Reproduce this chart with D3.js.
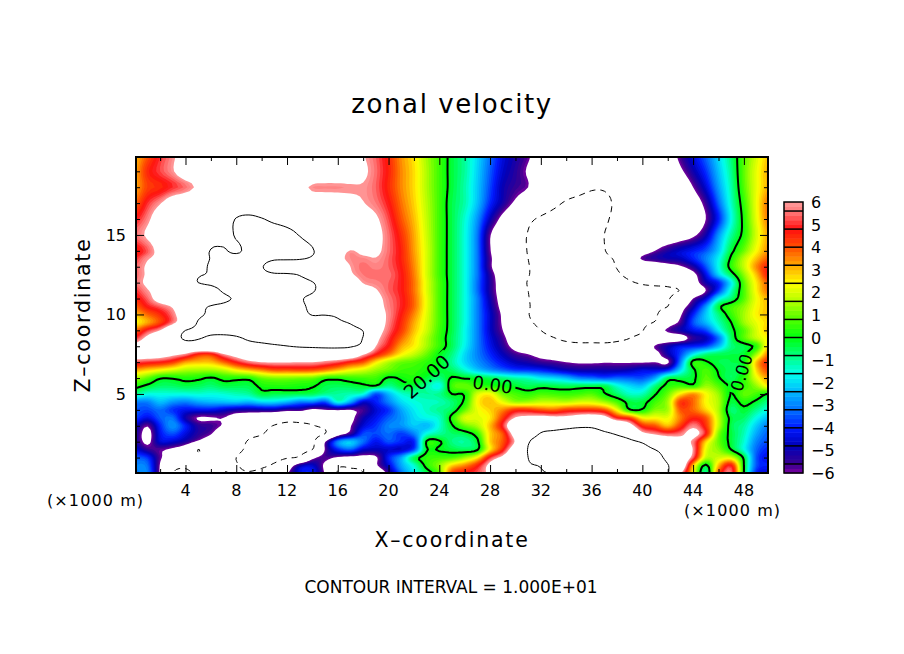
<!DOCTYPE html>
<html><head><meta charset="utf-8">
<script src="https://cdn.jsdelivr.net/npm/d3@7"></script>
<style>html,body{margin:0;background:#fff}svg{display:block}text{font-family:"DejaVu Sans",sans-serif;fill:#000}</style>
</head><body><svg id="c" width="904" height="654"></svg>
<script>
const titleText="zonal velocity";
const xLabel="X\u2013coordinate", zLabel="Z\u2013coordinate";
const unitText="(\u00d71000 m)";
const footer="CONTOUR INTERVAL = 1.000E+01";
const xMajor=[4,8,12,16,20,24,28,32,36,40,44,48];
const xMinor=[2,6,10,14,18,22,26,30,34,38,42,46];
const zMajor=[5,10,15];
const zMinor=[1,2,3,4,6,7,8,9,11,12,13,14,16,17,18,19];
const legendTicks=[6,5,4,3,2,1,0,-1,-2,-3,-4,-5,-6];
const legendEdges=[5.6,4.8,4,3.2,2.4,1.6,0.8,0,-0.8,-1.6,-2.4,-3.2,-4,-4.8,-5.6];
const colorValues=[-6,-5.6,-4.8,-4,-3.2,-2.4,-1.6,-0.8,0,0.8,1.6,2.4,3.2,4,4.8,5.6,6];
const colorStops=["#7a00a0","#3a0090","#0000b8","#0018ff","#0070ff","#00b8ff","#00ffee","#00ff80","#00ff10","#50ff00","#b0ff00","#ffff00","#ffa800","#ff5000","#ff1010","#ff7c7c","#ff9c9c"];
const contourLabels=[{t:"20.00",x:23,z:6.1,r:-42,s:19},{t:"0.00",x:28.2,z:5.6,r:8,s:18},{t:"0.00",x:47.8,z:6.35,r:-73,s:17}];
const zLevels=[20,19,18,17,16,15,14,13.5,13,12.5,12,11.5,11,10.5,10,9.5,9,8.5,8,7.5,7,6.5,6,5.5,5,4.5,4,3.5,3,2.5,2,1.5,1,.5,0];
const velocity=[
[3,4,5,5.8,6.8,7.5,8,8,8,8, 8,8,8,8,8,8,7.5,7,6.1,5.4, 4.5,3.4,2.6,1.5,.6,-.3,-1,-2,-3.2,-4.4, -5.1,-5.8,-7,-8,-8,-8.5,-8.5,-8.5,-8,-8, -8,-7.5,-7,-5.6,-4.4,-3.3,-2,-.7,.8,2,3],
[3.2,4.5,5.2,5.9,7,7.5,8,8,8,8, 8,8,8,8,7.8,7.5,7.4,7,6.3,5.5, 4.6,3.5,2.7,1.6,.6,-.3,-1,-2.1,-3.4,-4.6, -5.3,-6.2,-7.5,-8,-8.5,-8.7,-9,-9,-8.5,-8, -8,-8,-7.5,-6.3,-5,-3.8,-2.3,-.9,.9,2.2,3.2],
[3.2,4.2,4.5,5,5.5,6.3,7.5,8,8,8, 8,8,7.5,6.6,5.8,5.75,5.75,5.85,5.9,5.4, 4.5,3.5,2.7,1.6,.6,-.3,-1.1,-2.2,-3.6,-4.9, -5.5,-6,-7.5,-8.5,-9,-9.4,-9.8,-9.8,-9.3,-8.5, -8,-8,-8,-7.5,-6,-4.5,-2.7,-1.1,.8,2.2,3.2],
[3.8,5,5.9,7,7.5,8,8,8.5,8.5,8.5, 8.5,8.5,8.5,8,7.5,7.2,7,6.5,6.05,5.6, 4.8,3.7,2.8,1.7,.6,-.4,-1.1,-2.3,-3.9,-5.1, -6.3,-7.5,-8.5,-9.5,-10.2,-10.5,-10.7,-10.5,-9.6,-8.8, -8.3,-8,-8,-8,-7,-5.5,-3.3,-1.3,.5,2.3,3.8],
[4.8,5.7,7,7.5,8,8.3,8.6,9,10.1,10.4, 10.1,9.6,9.3,9,8.5,8,7.5,7,6.7,6.2, 5.2,4,3,1.8,.6,-.4,-1.4,-2.8,-4.8,-6.5, -8,-9.5,-10.3,-10.8,-11,-11,-11,-10.3,-9.5,-8.8, -8.3,-8,-8,-8,-7.5,-6,-4,-1.6,.3,2.2,3.7],
[5.5,6.2,7,7.5,8,8.5,9,9.6,10.1,10.6, 11,11,10.6,9.9,9,8.5,8,7.5,7,6.5, 5.5,4.4,3.2,1.9,.6,-.4,-1.5,-3.1,-5.9,-7.5, -9,-10.1,-11,-11.5,-11.5,-11.5,-11,-10,-9.3,-8.7, -8.2,-8,-7.5,-7,-6.3,-5,-2.8,-1,.3,2,3.3],
[4.5,5.3,6.6,7.5,8,8.6,10.1,10.1,9.8,10.4, 11,11.2,11.2,11,10.2,8.5,7,5.95,6.4,6.3, 5.5,4.6,3.3,2,.6,-.4,-1.5,-3.1,-5.9,-7.5, -9,-10.1,-11,-11.5,-11.5,-11.5,-11,-10.1,-9,-8, -7,-6,-5.2,-4.6,-4.1,-3.5,-2.2,-.3,1,2.4,3.5],
[5,5.9,6.5,7.5,8,8.8,10.1,10.4,10.5,10.6, 10.5,10.2,10.2,10.1,9.7,8.5,6.5,5.8,5.75,5.95, 5.4,4.6,3.4,2,.6,-.4,-1.5,-3.1,-5.7,-7.5, -9,-10,-11,-11.5,-11.5,-11.5,-11.3,-10.5,-9.6,-7.5, -5.8,-5.3,-5,-4.8,-4,-3,-1.7,.2,1.7,3,4],
[5.4,6.2,7,7.5,8,9,10.3,10.5,10.6,10.5, 10.1,9.2,8.8,9,8.8,8,7,6,5.5,5.7, 5.4,4.7,3.5,2,.6,-.4,-1.5,-3.1,-5.7,-7.6, -9,-9.9,-10.8,-11.5,-11.5,-11.5,-11.3,-10.8,-9.9,-8.8, -8,-7.5,-6.8,-6.2,-5.2,-3.5,-1.6,.4,1.8,3.5,4.7],
[5.4,6.2,7,7.5,8.5,9.8,10.1,10.5,10.6,10.6, 10.4,10.2,10.2,9.9,9,8,7,6.2,5.6,5.5, 5.5,4.8,3.6,2,.6,-.4,-1.5,-3.1,-5.3,-7.2, -9,-9.9,-10.8,-11.5,-11.5,-11.5,-11.5,-11.2,-10.3,-9.5, -9,-8.7,-8.2,-7.5,-6.5,-4.3,-2.1,-.5,1.3,3,4.8],
[5.5,6.3,7,7.5,8.8,10,10.3,10.6,10.8,11, 11,10.8,10.5,10.6,10.1,9,8,7,5.95,5.7, 5.4,4.8,3.7,2.1,.7,-.4,-1.5,-3.2,-5.2,-7, -9,-10.1,-11,-11.5,-11.5,-11.5,-11.5,-11,-10.8,-10.2, -9.8,-9.6,-9.5,-8.8,-7,-5,-4,-1.8,.8,2.6,4],
[5,5.9,6.7,7.3,8,8.6,9.3,10.2,10.6,11, 11.2,11.2,11,10.6,10.2,9,8,7,6.6,6.1, 5.4,4.8,3.7,2.1,.7,-.4,-1.5,-3.2,-5.2,-6.9, -8.8,-10,-11,-11.5,-11.5,-11.5,-11.5,-11.3,-11,-10.8, -10.6,-10.5,-10.3,-9.9,-8,-6,-3.8,-1.3,.7,2.5,3.8],
[4.5,5.4,6.8,7.5,8,8.5,9,9.7,10.2,10.8, 11,11,10.8,10.2,9.5,8.5,8,7,6.8,6.4, 5.6,4.9,3.8,2.2,.7,-.4,-1.5,-3,-5,-6.8, -8.8,-9.9,-11,-11.5,-11.5,-11.5,-11.5,-11.5,-11.2,-11, -10.8,-10.6,-10.2,-8.5,-6,-4.5,-1.8,-.7,.8,2.3,3.2],
[3.8,4.8,5.4,6.2,8,9.4,10.1,10.3,10.5,10.8, 11,11,10.8,10.4,9.5,8.5,7.8,7,6.8,6.5, 5.7,4.9,3.8,2.2,.7,-.4,-1.5,-3,-4.8,-6.6, -8.6,-9.8,-11,-11.5,-11.5,-11.5,-11.5,-11.5,-11.2,-11, -10.7,-10.4,-10,-7,-5,-2.8,-.3,.6,1.3,2.4,3],
[3,3.8,4.5,5.6,7.5,9.5,10.3,10.5,10.7,11, 11,11,10.9,10.6,9.9,9.9,9.5,8,7.3,6.7, 5.8,4.7,3.5,2.1,.7,-.4,-1.5,-3,-4.6,-6.3, -8.5,-9.9,-11,-11.5,-11.5,-11.5,-11.5,-11.5,-11.5,-11.2, -11,-10.4,-8,-6.2,-4,-2.2,-.8,.5,1.5,2.5,3],
[2.4,3.2,4.2,5.6,7.5,10.2,10.6,10.8,11,11, 11,11,11,11,10.8,10.8,10.4,9.7,7.8,7, 5.7,4.5,3.2,2,.7,-.4,-1.5,-3,-4.6,-6.2, -8,-9.6,-10.5,-11,-11.3,-11.3,-11.3,-11.3,-11.3,-11, -10.6,-9.8,-7,-5.7,-3.5,-2.4,-1.2,0,1.4,2.2,2.8],
[3.7,5,6,8,10,10.4,10.4,10.5,10.6,10.8, 11,11,11,11,11,11,11,11,9.9,7, 5.5,4.3,3,1.9,.6,-.4,-1.6,-3,-4.6,-6, -7.7,-9,-10,-10.6,-10.8,-11,-11,-11,-11,-10.8, -10.2,-7,-5.8,-5,-4.2,-3.6,-1.8,-.3,.8,2,3],
[5,6.5,8,9,10.3,10.1,9.7,9.6,9.8,10.2, 10.5,10.8,10.9,11,11,11,11,10.9,9.9,6.6, 5.1,3.8,2.7,1.6,.5,-.5,-1.6,-3,-4.4,-5.6, -7.3,-8.5,-9.3,-9.9,-10.4,-10.6,-10.6,-10.6,-10.4,-10, -9,-7.5,-7,-6.8,-5.4,-4.8,-3.2,-.6,.8,1.8,2.5],
[6.5,7.5,8,8.3,8.6,8.8,9,9.2,9.3,9.4, 9.5,9.7,9.95,10.2,10.3,10.4,10.4,10.2,9.2,6, 4.7,3.2,2.5,1.5,.5,-.5,-1.7,-3,-4.2,-5.3, -6.6,-7.5,-8.2,-8.8,-9.2,-9.4,-9.4,-9.4,-9.2,-8.8, -7.5,-5.9,-5,-4.2,-4,-3.6,-2.4,-.8,-.4,.4,3],
[7,7.2,6.9,6.4,5.8,4.6,4.5,5.9,6.8,7.5, 7.8,8,8,8,8,8,8,7.8,6.2,4.8, 3.7,2.5,1.8,1,0,-.8,-2,-3,-3.9,-4.8, -5.6,-6,-6.6,-7,-7.5,-7.8,-7.8,-7.4,-7,-6.6, -6.3,-6.5,-5,-3.6,-1.8,-.8,-.5,-.4,-.2,1.5,3.8],
[5.3,5,4.8,4.3,3.3,3,3,3.8,4.8,5.6, 6,6.1,6.1,6,6,5.7,5.3,4.6,4,2.6, 1.6,1,.8,.4,-.1,-1,-2,-2.8,-3.5,-4.2, -4.8,-5.1,-5.5,-5.7,-6,-6.2,-6.2,-6.1,-6.1,-6.1, -6.1,-6,-6.2,-3,.3,.1,-.4,-.4,0,3,4.6],
[3.2,2.8,2.4,2,1.6,1.5,1.5,1.8,2.5,3, 3.5,4,4,4.1,4,3.6,3,2.4,2,1.4, 1,.6,.5,.2,-.2,-.6,-1.4,-2.2,-2.8,-3.3, -3.7,-3.8,-4,-4.4,-4.8,-5,-5,-5,-5,-4.8, -4.4,-4.4,-4,-2,-.2,.7,-.1,-.5,-.1,2.8,4.2],
[1.5,.9,.1,.1,.3,.2,-.1,.3,.3,.3, 1,1.2,1.2,1.1,1,.4,.3,.5,.6,.6, -.1,.1,.3,-.3,-.8,.1,-.1,-.2,-.5,-.8, -1.1,-1.3,-1.8,-2,-2.4,-3,-3.2,-3.5,-3.3,-3.4, -3.5,-2.6,-.5,-.4,-.2,.9,.1,-.6,.4,2.2,3.4],
[.3,-.2,-.6,-.6,-.4,-.5,-.7,-.4,-.4,-.4, .2,.3,.3,.2,.1,-.4,-.5,-.4,-.2,-.1, -.9,-.3,-.3,-1,-1.6,.6,1,.5,.3,.1, -.2,-.5,-.3,-.4,-.5,-.4,-.4,-.4,-1.4,-2, -2.2,-.8,.3,.6,.3,1.4,.8,-.1,.5,1.4,2.6],
[-.9,-1.5,-1.5,-1.5,-1.5,-1.4,-1.5,-1.4,-1.2,-1, -.3,-.4,-.4,-.4,-.5,-.9,-1,-1.2,-1.5,-3.5, -2.4,-1.4,-1.1,-1,-.9,0,.1,2,2.4,1.1, .7,.4,.7,.6,.5,.6,.8,.1,-.6,-1.3, -1.2,-.1,1,2.6,3.4,2.4,1.4,-.05,.9,.6,-.1],
[-3,-3,-2.3,-2.8,-3,-2.6,-2.4,-2.3,-2.2,-2.4, -2,-2,-2.4,-3,-3,-3.5,-1.5,-2.6,-4.5,-4, -3,-2,-1.5,-1.3,-1.2,-.7,.2,2.4,3,2.2, 1.4,1.5,1.8,1.8,1.7,2,2,1.5,.7,-.3, -.3,.6,1.5,4.3,3.8,2.4,1.6,-.3,.3,-.2,-.9],
[-3.4,-3.6,-3.2,-3.8,-4.2,-4.2,-4.2,-4.6,-5,-5.1, -5,-5,-5.5,-5.5,-6.3,-6,-5.9,-6,-5.6,-4.5, -3.8,-2.6,-1.8,-1.3,-.9,-.5,.9,2.2,2.8,3.5, 4.4,4.4,4,3.8,4.3,4.4,4.4,4,2.3,.1, .1,1.2,1.5,4,3.8,2.8,1.6,-.7,-.2,-.9,-1.6],
[-3.6,-4.3,-3.4,-3.2,-5,-6.1,-6.1,-6,-7,-7.5, -8,-8.5,-9,-9,-9,-8.5,-8,-6.5,-5,-4.2, -3.4,-2.8,-2,-1.6,-1.3,.3,2,2.1,2.6,4.3, 6.1,6.5,6.7,6.5,6.5,7,7.2,6.7,4.8,4.2, 2.4,2.4,2.2,3.6,4.6,4,1.8,-.3,-.6,-1.6,-2.4],
[-4.6,-5.9,-3.9,-2.8,-4,-5.3,-5.5,-6.2,-7.5,-8.5, -9.3,-10.1,-10.5,-10.4,-10.1,-9.5,-8.3,-6.1,-4.5,-3.8, -3,-2.8,-2.2,-2.4,-1.4,-.1,1,1.6,3,5, 8,8.5,9,9,9.3,9.6,9.6,9,8.5,6.8, 4.5,4,3,4.3,5.7,4.4,1.8,-.4,-1,-2.2,-3.1],
[-5,-6.5,-4.2,-3.5,-4.4,-5.3,-5.9,-7.5,-8.6,-9.4, -9.9,-10.6,-11,-11,-10.8,-10,-7,-5.5,-3.6,-3.6, -3.2,-3.7,-3,-1.5,-1,-.6,-.4,.5,2.8,4, 7,9,10.1,10.5,10.7,10.8,10.8,10.3,9.8,8.8, 6.5,5.8,5.3,5.6,6.6,4.8,1.2,-.3,-1.2,-2.6,-3.4],
[-5,-6.3,-4.5,-4.6,-5.2,-6.3,-7.2,-8,-9,-10.2, -10.6,-11,-11,-11,-10.6,-6.1,-3,-2.2,-3.2,-4.2, -3.5,-3.9,-4,.1,.1,-.8,-1,-.2,2.8,4, 6.2,9.8,10.5,11,11,11,11,11,10.9,10.5, 9.7,8.3,7.5,6.8,5.7,2.8,1,-.3,-1.4,-3,-3.6],
[-4.4,-5.4,-5.8,-6.3,-7.3,-10.05,-8.5,-8.8,-9.6,-10.3, -10.8,-11,-11,-10.8,-10,-5.9,-4,-3.4,-4.6,-4.8, -4.6,-4.6,-3.6,-.1,-.1,-.3,-.5,-.1,2.6,4.6, 7.5,10.1,11,11.5,11.5,11.5,11.5,11.5,11.5,11.5, 10.8,10,9,8,5.9,2.2,1.3,0,-1.5,-3.3,-4],
[-3.4,-3.8,-5.8,-7,-8,-8.8,-9,-9.5,-10,-10.5, -10.8,-10.8,-10.2,-9.6,-6.5,-5.6,-6.2,-6.5,-6.6,-6.2, -4,-2.6,-.5,.4,.6,.7,1.4,2.5,5,6.5, 8.5,10,10.8,11.5,11.5,11.5,11.5,11.5,11.5,11.5, 11,10.7,9.5,8,5.4,1.8,1.9,2,-.2,-3.5,-4.2],
[-3,-3.2,-6.1,-9,-9.6,-9,-9,-9.5,-9.9,-10.4, -10.3,-9.6,-7.5,-5,-4.6,-6.4,-9.5,-9.5,-9,-6.3, -4.5,-2.6,-1.4,.3,1.3,2.8,3.5,4.6,6.5,8.5, 9.5,9.9,10.1,11,11,11,11,11,11,11, 11,10.8,10.1,8,3,-.2,3,4.8,0,-3.5,-4],
[-3.2,-3,-6.2,-10,-10.4,-9.5,-9.5,-10.1,-9.8,-9.9, -9.5,-8.5,-6.2,-4.3,-4.1,-6.2,-10.2,-10.5,-10.1,-8, -5.5,-3.2,-1.8,-.5,.8,4.2,4.8,5.3,6.5,9, 9.8,9.9,9.9,10.1,10.5,10.5,10.5,10.5,10.5,10.5, 10.5,10.4,10.2,6.3,2.5,-1,4,5.5,0,-4,-4.5]
];

const svg=d3.select("#c");
const L=136,R=768,T=157,B=473;
const x=d3.scaleLinear().domain([0.1,49.9]).range([L,R]);
const z=d3.scaleLinear().domain([0.03,19.9]).range([B,T]);
const color=d3.scaleLinear().domain(colorValues).range(colorStops).clamp(true);
const nx=velocity[0].length, ny=velocity.length;
// Rendering only: the contour tracer runs on a Catmull-Rom resampling of the grid, which
// passes through every value read from the picture and rounds the polygon corners.
const fine=4, NX=(nx-1)*fine+1, NY=(ny-1)*fine+1;
const cr=(a,b,c,d,t)=>.5*(2*b+(c-a)*t+(2*a-5*b+4*c-d)*t*t+(3*b-a-3*c+d)*t*t*t);
const clampI=(i,n)=>Math.max(0,Math.min(n-1,i));
const cell=(i,j)=>velocity[clampI(j,ny)][clampI(i,nx)];
const alongX=(j,i0,t)=>cr(cell(i0-1,j),cell(i0,j),cell(i0+1,j),cell(i0+2,j),t);
const values=new Float64Array(NX*NY);
for(let J=0;J<NY;J++)for(let I=0;I<NX;I++){
 const i0=Math.floor(I/fine),j0=Math.floor(J/fine),tx=I/fine-i0,ty=J/fine-j0;
 values[J*NX+I]=cr(alongX(j0-1,i0,tx),alongX(j0,i0,tx),alongX(j0+1,i0,tx),alongX(j0+2,i0,tx),ty);
}
const zOfRow=d3.scaleLinear().domain(zLevels.map((_,j)=>j)).range(zLevels);
const path=d3.geoPath(d3.geoTransform({point(a,b){this.stream.point(x((a-.5)/fine),z(zOfRow((b-.5)/fine)));}}));
const contour=d3.contours().size([NX,NY]).smooth(true);
const defs=svg.append("defs");
defs.append("clipPath").attr("id","plot").append("rect").attr("x",L).attr("y",T).attr("width",R-L).attr("height",B-T);
const mask=defs.append("mask").attr("id","gaps").attr("maskUnits","userSpaceOnUse").attr("x",0).attr("y",0).attr("width",904).attr("height",654);
mask.append("rect").attr("width",904).attr("height",654).attr("fill","#fff");
contourLabels.forEach(d=>{const w=d.t.length*d.s*.64;
 mask.append("rect").attr("x",-w/2).attr("y",-9).attr("width",w).attr("height",18).attr("fill","#000")
  .attr("transform",`translate(${x(d.x)},${z(d.z)}) rotate(${d.r})`);});

const step=0.2;
const thresholds=d3.range(0,60).map(i=>+(-6+i*step).toFixed(1));
const plot=svg.append("g").attr("clip-path","url(#plot)");
plot.selectAll("path.band").data(thresholds).join("path").attr("class","band")
 .attr("d",t=>path(contour.contour(values,t))).attr("fill",t=>color(t+step/2));
plot.append("path").attr("d",path(contour.contour(values,6))).attr("fill","#fff");
const lines=plot.append("g").attr("mask","url(#gaps)").attr("fill","none").attr("stroke","#000");
lines.append("path").attr("d",path(contour.contour(values,0))).attr("stroke-width",2);
lines.append("path").attr("d",path(contour.contour(values,10))).attr("stroke-width",1);
lines.append("path").attr("d",path(contour.contour(values,-10))).attr("stroke-width",1).attr("stroke-dasharray","6 5");
contourLabels.forEach(d=>{svg.append("text").text(d.t).attr("text-anchor","middle").attr("dy",d.s*.37).attr("font-size",d.s)
 .attr("transform",`translate(${x(d.x)},${z(d.z)}) rotate(${d.r})`);});

function ticks(axisFn,scale,vals,len,tr){
 const g=svg.append("g").attr("transform",tr).call(axisFn(scale).tickValues(vals).tickSize(len).tickFormat(""));
 g.select(".domain").remove();
 g.selectAll("line").attr("stroke","#000").attr("stroke-width",1);
}
ticks(d3.axisBottom,x,xMajor,-8,`translate(0,${B})`);
ticks(d3.axisBottom,x,xMinor,-4,`translate(0,${B})`);
ticks(d3.axisTop,x,xMajor,-8,`translate(0,${T})`);
ticks(d3.axisTop,x,xMinor,-4,`translate(0,${T})`);
ticks(d3.axisLeft,z,zMajor,-8,`translate(${L},0)`);
ticks(d3.axisLeft,z,zMinor,-4,`translate(${L},0)`);
ticks(d3.axisRight,z,zMajor,-8,`translate(${R},0)`);
ticks(d3.axisRight,z,zMinor,-4,`translate(${R},0)`);
svg.append("rect").attr("x",L).attr("y",T).attr("width",R-L).attr("height",B-T).attr("fill","none").attr("stroke","#000").attr("stroke-width",2);

svg.selectAll("text.xt").data(xMajor).join("text").attr("class","xt").attr("x",d=>x(d)).attr("y",496).attr("text-anchor","middle").attr("font-size",16).text(d=>d);
svg.selectAll("text.zt").data(zMajor).join("text").attr("class","zt").attr("x",126).attr("y",d=>z(d)+6).attr("text-anchor","end").attr("font-size",16).text(d=>d);
svg.append("text").attr("x",47).attr("y",506).attr("font-size",16).attr("letter-spacing",1.1).text(unitText);
svg.append("text").attr("x",684).attr("y",516).attr("font-size",16).attr("letter-spacing",1.1).text(unitText);
svg.append("text").attr("x",452).attr("y",113).attr("text-anchor","middle").attr("font-size",26).attr("letter-spacing",1.6).text(titleText);
svg.append("text").attr("x",452).attr("y",547).attr("text-anchor","middle").attr("font-size",20.5).attr("letter-spacing",1.8).text(xLabel);
svg.append("text").attr("transform","translate(90,315) rotate(-90)").attr("text-anchor","middle").attr("font-size",20.5).attr("letter-spacing",1.8).text(zLabel);
svg.append("text").attr("x",451).attr("y",593).attr("text-anchor","middle").attr("font-size",17).text(footer);

const lg=d3.scaleLinear().domain([-6,6]).range([473,202]);
const bar=svg.append("g");
bar.selectAll("rect").data(thresholds).join("rect").attr("x",784).attr("width",19)
 .attr("y",t=>lg(t+step)).attr("height",t=>lg(t)-lg(t+step)+.5).attr("fill",t=>color(t+step/2));
bar.selectAll("line").data(legendEdges).join("line").attr("x1",784).attr("x2",803).attr("y1",d=>lg(d)).attr("y2",d=>lg(d)).attr("stroke","#000").attr("stroke-width",1.5);
bar.append("rect").attr("x",784).attr("y",202).attr("width",19).attr("height",271).attr("fill","none").attr("stroke","#000").attr("stroke-width",1.5);
svg.selectAll("text.lt").data(legendTicks).join("text").attr("class","lt").attr("x",811).attr("y",d=>lg(d)+6).attr("font-size",16).text(d=>d<0?"\u2212"+(-d):d);
</script></body></html>
